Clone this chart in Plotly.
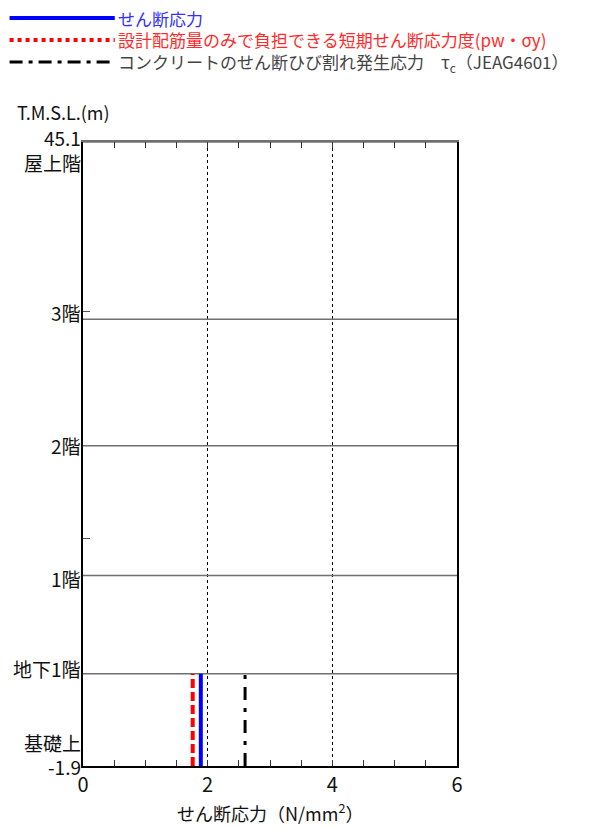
import plotly.graph_objects as go

# ---- data ----
floor_names = ["屋上階", "3階", "2階", "1階", "地下1階", "基礎上"]
floor_levels = [45.1, 31.75, 22.23, 12.45, 5.05, -1.9]   # T.M.S.L. (m)
minor_tick_levels = [32.3, 15.2]
x_ticks = [0, 2, 4, 6]

# stress values between 基礎上 and 地下1階 (N/mm2)
shear_stress = [1.89]      # せん断応力
capacity_stress = [1.76]   # 設計配筋量のみで負担できる短期せん断応力度
tau_c = [2.60]             # コンクリートのせん断ひび割れ発生応力

seg_bottom = floor_levels[-1]
seg_top = floor_levels[-2]

FONT = "Noto Sans CJK JP"

fig = go.Figure()

# floor lines
fx, fy = [], []
for lv in floor_levels[:-1]:
    fx += [0, 6, None]
    fy += [lv, lv, None]
fig.add_trace(go.Scatter(x=fx, y=fy, mode="lines",
                         line=dict(color="#707070", width=1.5),
                         showlegend=False, hoverinfo="skip"))

def seg(vals):
    xs, ys = [], []
    for v in vals:
        xs += [v, v, None]
        ys += [seg_bottom, seg_top, None]
    return xs, ys

x, y = seg(capacity_stress)
fig.add_trace(go.Scatter(x=x, y=y, mode="lines",
                         line=dict(color="#ff0000", width=4, dash="9px,4px"),
                         showlegend=False))
x, y = seg(tau_c)
fig.add_trace(go.Scatter(x=x, y=y, mode="lines",
                         line=dict(color="#000000", width=3, dash="13px,8px,4px,8px"),
                         showlegend=False))
x, y = seg(shear_stress)
fig.add_trace(go.Scatter(x=x, y=y, mode="lines",
                         line=dict(color="#0000ff", width=4),
                         showlegend=False))
# invisible trace for top axis
fig.add_trace(go.Scatter(x=[0, 6], y=[0, 0], xaxis="x2", mode="markers",
                         marker=dict(opacity=0), showlegend=False, hoverinfo="skip"))

# ---- layout geometry ----
L, R, T, B = 83.3, 456.7, 142, 766
W, H = 597, 829
def px(xp): return (xp - L) / (R - L)
def py(yp): return (B - yp) / (B - T)

shapes = []
legend_items = [
    ("せん断応力", "#3030ff", dict(color="#0000ff", width=4, dash="solid"), 18),
    ("設計配筋量のみで負担できる短期せん断応力度(pw・σy)", "#ff2a2a",
     dict(color="#ff0000", width=4, dash="dot"), 40),
    ("コンクリートのせん断ひび割れ発生応力　τ<sub>c</sub>（JEAG4601）", "#444444",
     dict(color="#000000", width=3, dash="13px,6px,4px,6px"), 62),
]
annotations = []
for text, tcol, ln, ypix in legend_items:
    shapes.append(dict(type="line", xref="paper", yref="paper",
                       x0=px(10), x1=px(115), y0=py(ypix), y1=py(ypix), line=ln))
    annotations.append(dict(xref="paper", yref="paper", x=px(117), y=py(ypix),
                            xanchor="left", yanchor="middle", showarrow=False,
                            borderpad=0,
                            text=text, font=dict(family=FONT, size=17, color=tcol)))

# y labels
label_shift = {"屋上階": -20, "3階": 7, "2階": 0, "1階": -3, "地下1階": 5, "基礎上": 24}
for name, lv in zip(floor_names, floor_levels):
    annotations.append(dict(xref="paper", yref="y", x=0, y=lv, xanchor="right",
                            yanchor="middle", xshift=-1, yshift=label_shift[name],
                            showarrow=False, text=name, borderpad=0,
                            font=dict(family=FONT, size=19, color="#111111")))
for val, sh in [(floor_levels[0], 5), (floor_levels[-1], 0)]:
    annotations.append(dict(xref="paper", yref="y", x=0, y=val, xanchor="right",
                            yanchor="middle", xshift=-1, yshift=sh, showarrow=False,
                            text=f"{val:.1f}", borderpad=0,
                            font=dict(family=FONT, size=19, color="#111111")))
annotations.append(dict(xref="paper", yref="paper", x=px(64), y=py(112),
                        xanchor="center", yanchor="middle", showarrow=False,
                        text="T.M.S.L.(m)", font=dict(family=FONT, size=18, color="#111111")))
annotations.append(dict(xref="paper", yref="paper", x=0.5, y=py(812),
                        xanchor="center", yanchor="middle", showarrow=False,
                        text="せん断応力（N/mm<sup>2</sup>）",
                        font=dict(family=FONT, size=18, color="#111111")))

fig.update_layout(
    width=W, height=H,
    margin=dict(l=L, r=W - R, t=T, b=H - B, pad=0),
    paper_bgcolor="white", plot_bgcolor="white",
    showlegend=False,
    xaxis=dict(range=[0, 6], tickvals=x_ticks, showline=True, linecolor="black",
               linewidth=1.5, ticks="inside", ticklen=6, tickcolor="#333",
               minor=dict(dtick=0.5, ticks="inside", ticklen=6, tickcolor="#333", showgrid=False),
               showgrid=True, gridcolor="black", griddash="dot", gridwidth=1,
               zeroline=False, tickfont=dict(family=FONT, size=20, color="#111"),
               fixedrange=True),
    xaxis2=dict(range=[0, 6], overlaying="x", side="top", showline=True,
                linecolor="#707070", linewidth=1.5, ticks="inside", ticklen=6,
                tickcolor="#333", dtick=0.5, tick0=0, showticklabels=False,
                showgrid=False, zeroline=False),
    yaxis=dict(range=[floor_levels[-1], floor_levels[0]], showline=True,
               linecolor="black", linewidth=1.5, mirror=True,
               tickvals=minor_tick_levels, ticks="inside", ticklen=7, tickcolor="#555",
               showticklabels=False, showgrid=False, zeroline=False),
    shapes=shapes, annotations=annotations,
)

fig.write_html("out.html", config={"displayModeBar": False},
               post_script="document.body.style.margin='0';document.body.style.padding='0';")
